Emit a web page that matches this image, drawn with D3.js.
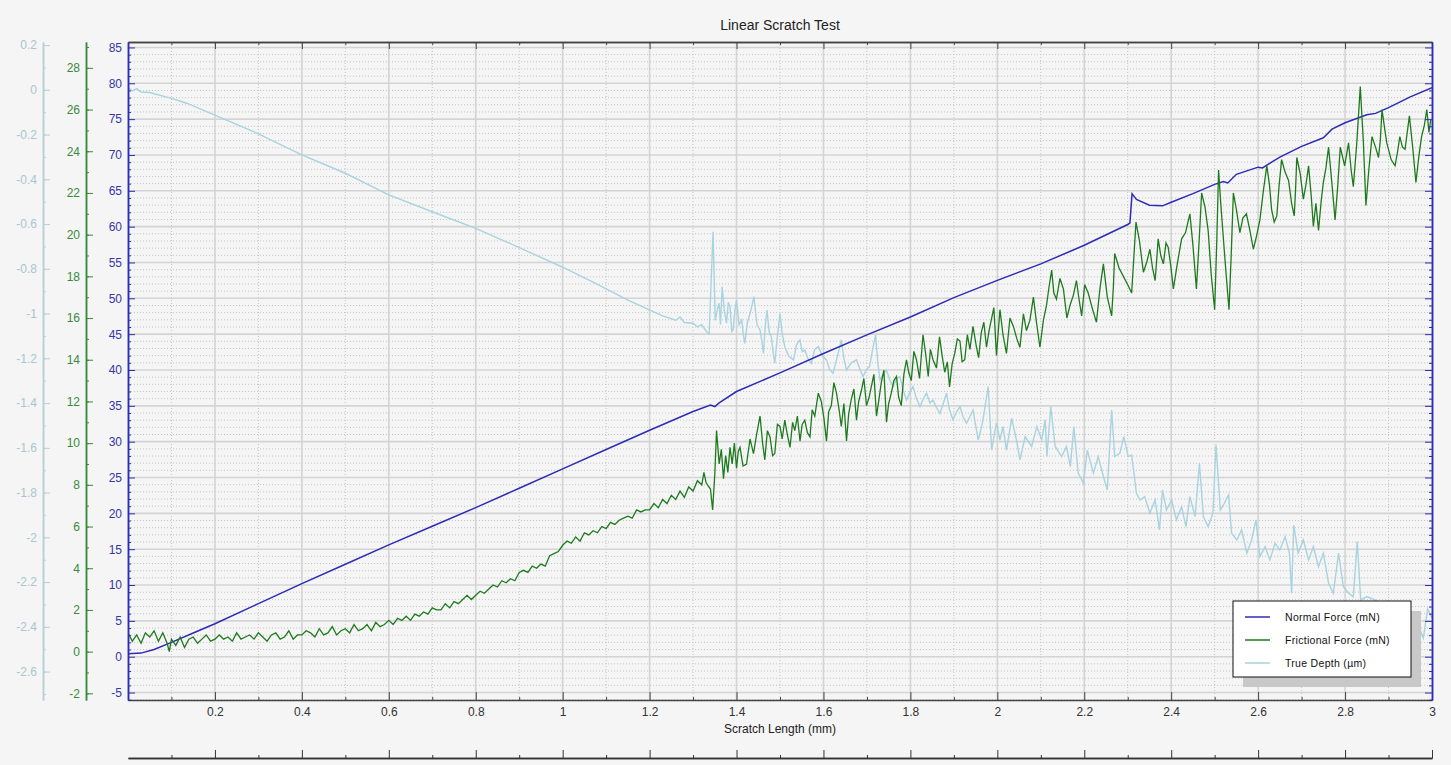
<!DOCTYPE html>
<html>
<head>
<meta charset="utf-8">
<script src="https://d3js.org/d3.v7.min.js"></script>
<style>
  body { margin: 0; background: #f5f5f5; }
  svg text { font-family: "Liberation Sans", Arial, sans-serif; }
</style>
</head>
<body>
<div id="chart"></div>
<script>
// ---- data ----
var lengthTicks = [0.2, 0.4, 0.6, 0.8, 1, 1.2, 1.4, 1.6, 1.8, 2, 2.2, 2.4, 2.6, 2.8, 3];
var normalTicks = [-5, 0, 5, 10, 15, 20, 25, 30, 35, 40, 45, 50, 55, 60, 65, 70, 75, 80, 85];
var frictionTicks = [-2, 0, 2, 4, 6, 8, 10, 12, 14, 16, 18, 20, 22, 24, 26, 28];
var depthTicks = [0.2, 0, -0.2, -0.4, -0.6, -0.8, -1, -1.2, -1.4, -1.6, -1.8, -2, -2.2, -2.4, -2.6];
var seriesNames = ["Normal Force (mN)", "Frictional Force (mN)", "True Depth (\u00b5m)"];

var normalX = [0, 0.03, 0.06, 0.1, 0.15, 0.2, 0.3, 0.4, 0.5, 0.6, 0.7, 0.8, 0.9, 1.0, 1.1, 1.2, 1.3, 1.34, 1.35, 1.36, 1.4,
  1.5, 1.6, 1.7, 1.8, 1.9, 2.0, 2.1, 2.2, 2.3, 2.305, 2.31, 2.32, 2.35, 2.38, 2.4, 2.45, 2.5, 2.52, 2.53, 2.55,
  2.6, 2.61, 2.65, 2.7, 2.75, 2.77, 2.8, 2.85, 2.87, 2.9, 2.95, 3.0];
var normalF = [0.4, 0.5, 1.0, 2.0, 3.3, 4.6, 7.4, 10.2, 12.9, 15.6, 18.2, 20.8, 23.5, 26.2, 28.9, 31.6, 34.2, 35.1, 34.9, 35.4, 37.0,
  39.6, 42.3, 44.9, 47.4, 50.1, 52.5, 54.8, 57.4, 60.3, 60.5, 64.6, 63.8, 63.0, 62.9, 63.4, 64.6, 65.9, 66.3, 66.1, 67.3,
  68.3, 68.2, 69.7, 71.2, 72.4, 73.6, 74.5, 75.6, 75.8, 76.6, 78.1, 79.4];

var frictionX = [0, 0.01, 0.02, 0.03, 0.04, 0.05, 0.06, 0.07, 0.08, 0.09, 0.095, 0.1, 0.11, 0.12, 0.13, 0.14, 0.15, 0.16, 0.17, 0.18, 0.19,
  0.2, 0.21, 0.22, 0.23, 0.24, 0.25, 0.26, 0.27, 0.28, 0.29, 0.3, 0.31, 0.32, 0.33, 0.34, 0.35, 0.36, 0.37, 0.38, 0.39,
  0.4, 0.41, 0.42, 0.43, 0.44, 0.45, 0.46, 0.47, 0.48, 0.49, 0.5, 0.51, 0.52, 0.53, 0.54, 0.55, 0.56, 0.57, 0.58, 0.59,
  0.6, 0.61, 0.62, 0.63, 0.64, 0.65, 0.66, 0.67, 0.68, 0.69, 0.7, 0.71, 0.72, 0.73, 0.74, 0.75, 0.76, 0.77, 0.78, 0.79,
  0.8, 0.81, 0.82, 0.83, 0.84, 0.85, 0.86, 0.87, 0.88, 0.89, 0.9, 0.91, 0.92, 0.93, 0.94, 0.95, 0.96, 0.97, 0.98, 0.99,
  1.0, 1.01, 1.02, 1.03, 1.04, 1.05, 1.06, 1.07, 1.08, 1.09, 1.1, 1.11, 1.12, 1.13, 1.14, 1.15, 1.16, 1.17, 1.18, 1.19,
  1.2, 1.21, 1.22, 1.23, 1.24, 1.25, 1.26, 1.27, 1.28, 1.29, 1.3, 1.31, 1.32, 1.325, 1.33, 1.34, 1.345, 1.35, 1.354, 1.36,
  1.365, 1.37, 1.375, 1.38, 1.385, 1.39, 1.395,
  1.400, 1.404, 1.408, 1.415, 1.423, 1.431, 1.439, 1.446, 1.454, 1.460,
  1.465, 1.471, 1.477, 1.483, 1.488, 1.494, 1.500, 1.505, 1.511, 1.517,
  1.523, 1.529, 1.534, 1.540, 1.546, 1.551, 1.557, 1.563, 1.569, 1.574,
  1.580, 1.588, 1.595, 1.601, 1.607, 1.612, 1.618, 1.624, 1.630, 1.636,
  1.641, 1.647, 1.653, 1.658, 1.664, 1.670, 1.676, 1.681, 1.687, 1.693,
  1.699, 1.705, 1.710, 1.716, 1.722, 1.727, 1.733, 1.739, 1.745, 1.750,
  1.756, 1.762, 1.768, 1.773, 1.779, 1.785, 1.791, 1.796, 1.802, 1.808,
  1.814, 1.821, 1.829, 1.835, 1.841, 1.846, 1.852, 1.860, 1.867, 1.873,
  1.879, 1.885, 1.890, 1.896, 1.902, 1.908, 1.914, 1.919, 1.925, 1.931,
  1.937, 1.944, 1.952, 1.957, 1.963, 1.969, 1.975, 1.981, 1.986, 1.992,
  1.998,
  2.006, 2.013, 2.021, 2.029, 2.037, 2.045, 2.052, 2.060, 2.067, 2.075,
  2.083, 2.090, 2.098, 2.106, 2.113, 2.119, 2.125, 2.130, 2.136, 2.144,
  2.152, 2.160, 2.167, 2.175, 2.182, 2.188, 2.194, 2.201, 2.209, 2.218,
  2.228, 2.236, 2.244, 2.253, 2.263, 2.267, 2.270, 2.280, 2.290, 2.300,
  2.309, 2.314, 2.319, 2.327, 2.336, 2.344, 2.351, 2.357, 2.363, 2.367,
  2.370, 2.376, 2.382, 2.388, 2.393, 2.399, 2.405, 2.414, 2.424, 2.433,
  2.443, 2.450, 2.458, 2.464, 2.470, 2.478, 2.485, 2.492, 2.500, 2.505,
  2.509, 2.514, 2.519, 2.526, 2.533, 2.538, 2.543, 2.550, 2.558, 2.565,
  2.573, 2.581, 2.589, 2.596, 2.604, 2.612, 2.620, 2.626, 2.631, 2.637,
  2.643, 2.648, 2.654, 2.662, 2.670, 2.677, 2.683, 2.686, 2.689, 2.697,
  2.704, 2.710, 2.716, 2.722, 2.727, 2.733, 2.739, 2.745, 2.750, 2.756,
  2.762, 2.770, 2.777, 2.783, 2.789, 2.799, 2.808, 2.814, 2.819, 2.827,
  2.835, 2.842, 2.848, 2.855, 2.862, 2.870, 2.877, 2.881, 2.885, 2.891,
  2.896, 2.906, 2.915, 2.921, 2.926, 2.932, 2.938, 2.943, 2.948, 2.956,
  2.963, 2.970, 2.976, 2.982, 2.988, 2.993, 2.997];
var frictionF = [0.9, 0.5, 0.8, 0.4, 0.9, 0.7, 1.0, 0.5, 0.9, 0.4, 0.0, 0.6, 0.3, 0.7, 0.2, 0.6, 0.7, 0.4, 0.6, 0.8, 0.5,
  0.6, 0.8, 0.6, 0.7, 0.5, 0.9, 0.6, 0.7, 0.8, 0.6, 0.9, 0.7, 0.5, 0.8, 0.9, 0.6, 0.7, 1.0, 0.6, 0.8,
  0.8, 1.0, 0.9, 0.7, 1.1, 0.8, 0.9, 1.2, 0.8, 1.0, 1.1, 0.9, 1.3, 1.0, 1.1, 1.3, 1.0, 1.4, 1.2, 1.3,
  1.5, 1.3, 1.6, 1.5, 1.7, 1.5, 1.8, 1.7, 1.9, 1.8, 2.1, 2.0, 2.0, 2.3, 2.1, 2.4, 2.3, 2.5, 2.7, 2.5,
  2.7, 2.9, 2.8, 3.0, 3.2, 3.1, 3.4, 3.3, 3.5, 3.4, 3.8, 3.9, 3.8, 4.1, 4.0, 4.2, 4.1, 4.6, 4.7, 4.8,
  5.1, 5.3, 5.2, 5.5, 5.3, 5.7, 5.6, 5.8, 5.7, 6.0, 5.9, 6.2, 6.1, 6.3, 6.4, 6.5, 6.4, 6.8, 6.7, 6.8,
  6.8, 7.1, 6.9, 7.3, 7.1, 7.5, 7.3, 7.7, 7.4, 7.9, 7.7, 8.2, 8.0, 8.6, 8.1, 7.8, 6.8, 8.5, 10.6, 9.0,
  9.7, 8.3, 9.4, 8.6, 9.8, 9.0, 10.0,
  8.8, 9.6, 9.8, 8.9, 9.0, 10.2, 9.5, 10.4, 11.3, 10.0,
  9.2, 10.6, 10.3, 9.4, 9.5, 10.9, 10.8, 10.2, 11.1, 10.4,
  9.8, 11.0, 10.6, 11.3, 10.1, 10.9, 11.1, 10.5, 10.3, 11.6,
  11.3, 12.4, 12.0, 11.2, 10.1, 11.5, 11.8, 12.9, 12.4, 11.6,
  10.8, 11.9, 10.1, 11.4, 12.1, 12.6, 11.1, 12.0, 12.5, 13.1,
  11.8, 12.2, 12.7, 13.3, 11.3, 12.0, 12.9, 13.5, 11.0, 11.9,
  12.4, 13.0, 13.2, 12.2, 11.8, 13.3, 14.0, 13.4, 13.0, 14.4,
  14.0, 13.1, 15.2, 14.3, 13.2, 14.5, 14.0, 13.6, 15.1, 14.2,
  13.4, 13.9, 12.7, 13.8, 14.3, 15.0, 14.9, 13.9, 14.0, 15.2,
  14.5, 15.6, 14.6, 14.1, 15.3, 15.8, 14.6, 15.4, 15.9, 16.5,
  14.2,
  16.4, 15.2, 14.3, 16.0, 15.6, 15.0, 14.6, 16.2, 15.4, 15.9,
  17.0, 15.8, 14.6, 15.9, 16.6, 17.5, 18.3, 17.2, 16.9, 17.9,
  17.4, 16.0, 16.6, 17.1, 17.8, 16.9, 16.1, 17.6, 17.2, 16.5,
  15.8, 17.4, 18.6, 17.0, 16.1, 17.5, 19.1, 18.4, 18.0, 17.6,
  17.2, 18.9, 20.6, 19.7, 18.2, 18.7, 19.3, 18.4, 17.8, 18.9,
  19.8, 19.0, 18.6, 19.6, 19.4, 18.5, 17.4, 18.6, 19.8, 20.1,
  21.0, 19.5, 17.4, 19.6, 22.0, 21.3, 20.2, 18.1, 16.4, 19.8,
  23.1, 21.5, 20.1, 18.2, 16.4, 19.0, 22.0, 21.2, 20.1, 20.8,
  21.0, 20.2, 19.3, 19.9, 20.7, 22.1, 23.3, 22.4, 21.2, 20.6,
  20.9, 22.3, 23.6, 23.0, 22.6, 21.5, 20.9, 22.1, 23.7, 22.9,
  21.7, 22.4, 23.3, 21.9, 20.4, 21.5, 20.2, 21.6, 22.5, 23.2,
  24.2, 22.4, 20.7, 22.3, 24.2, 23.3, 24.4, 23.1, 22.3, 24.4,
  27.1, 24.5, 21.4, 23.2, 24.7, 24.2, 23.7, 24.5, 26.0, 25.1,
  24.4, 23.6, 23.3, 24.0, 24.7, 24.2, 24.1, 24.9, 25.7, 24.1,
  22.5, 23.8, 24.7, 25.2, 26.0, 24.9, 25.5];

var depthX = [0, 0.01, 0.02, 0.03, 0.05, 0.1, 0.135, 0.2, 0.3, 0.4, 0.5, 0.6, 0.7, 0.8, 0.9, 1.0, 1.07, 1.15, 1.23, 1.26,
  1.27, 1.28, 1.3, 1.31, 1.32, 1.331, 1.337,
  1.346, 1.351, 1.356, 1.360, 1.363, 1.367, 1.372, 1.377, 1.381, 1.385,
  1.389, 1.392, 1.396, 1.400, 1.406, 1.412, 1.416, 1.419, 1.425, 1.431,
  1.436, 1.440, 1.447, 1.454, 1.458, 1.462, 1.466, 1.470, 1.475, 1.480,
  1.484, 1.488, 1.494, 1.500, 1.505, 1.511, 1.520, 1.531, 1.538, 1.546,
  1.551, 1.557, 1.564, 1.572, 1.580, 1.588, 1.598, 1.607, 1.614, 1.622,
  1.630, 1.636, 1.641, 1.647, 1.653, 1.664, 1.676, 1.684, 1.691, 1.699,
  1.706, 1.713, 1.720, 1.725, 1.730, 1.738, 1.745, 1.753, 1.761, 1.768,
  1.776, 1.783, 1.791, 1.799, 1.806, 1.814, 1.822, 1.830, 1.837, 1.845,
  1.852, 1.860, 1.868, 1.876, 1.883, 1.890, 1.898, 1.906, 1.914, 1.921,
  1.929, 1.937, 1.944, 1.950, 1.956, 1.962, 1.967, 1.973, 1.979, 1.983,
  1.987, 1.993, 1.998,
  2.006, 2.013, 2.021, 2.033, 2.044, 2.052, 2.064, 2.079, 2.091, 2.102, 2.11, 2.114, 2.123, 2.133, 2.148, 2.159,
  2.168, 2.176, 2.186, 2.198, 2.207, 2.221, 2.232, 2.244, 2.253, 2.263, 2.27, 2.282, 2.291, 2.301, 2.309, 2.32,
  2.328, 2.339, 2.351, 2.363, 2.373, 2.38, 2.389, 2.401, 2.412, 2.424, 2.434, 2.443, 2.455, 2.465, 2.474, 2.485,
  2.496, 2.503, 2.513, 2.522, 2.532, 2.539, 2.551, 2.562, 2.574, 2.585, 2.595, 2.604, 2.616, 2.627, 2.639, 2.65,
  2.662, 2.672, 2.677, 2.682, 2.692, 2.704, 2.716, 2.727, 2.739, 2.75, 2.762, 2.773, 2.785, 2.796, 2.808, 2.819,
  2.828, 2.836, 2.85, 2.87, 2.89, 2.91, 2.93, 2.95, 2.97, 2.98, 2.99, 3.0];
var depthD = [0.01, -0.005, 0.005, -0.01, -0.012, -0.038, -0.06, -0.113, -0.197, -0.291, -0.373, -0.47, -0.545, -0.619, -0.705, -0.793, -0.86, -0.94, -1.01, -1.03,
  -1.015, -1.04, -1.043, -1.06, -1.05, -1.081, -1.09,
  -0.634, -1.03, -0.98, -0.954, -1.05, -0.88, -0.99, -1.043, -0.95, -0.97,
  -1.08, -1.073, -0.99, -0.94, -1.05, -1.029, -1.10, -1.133, -1.04, -1.0,
  -0.96, -0.924, -1.05, -1.073, -1.12, -1.178, -1.06, -0.984, -1.08, -1.103,
  -1.17, -1.222, -1.10, -1.0, -1.09, -1.148, -1.19, -1.207, -1.14, -1.118,
  -1.17, -1.163, -1.20, -1.222, -1.16, -1.148, -1.19, -1.207, -1.25, -1.267,
  -1.207, -1.16, -1.118, -1.20, -1.252, -1.22, -1.207, -1.25, -1.282, -1.25,
  -1.237, -1.16, -1.096, -1.22, -1.296, -1.27, -1.252, -1.30, -1.326, -1.29,
  -1.282, -1.34, -1.386, -1.35, -1.326, -1.38, -1.416, -1.38, -1.356, -1.40,
  -1.386, -1.42, -1.446, -1.40, -1.356, -1.43, -1.475, -1.44, -1.416, -1.46,
  -1.49, -1.46, -1.431, -1.50, -1.565, -1.52, -1.475, -1.40, -1.326, -1.47,
  -1.61, -1.54, -1.49,
  -1.565, -1.505, -1.61, -1.468, -1.565, -1.654, -1.55, -1.594, -1.505, -1.565, -1.475, -1.639, -1.416, -1.594, -1.639, -1.594,
  -1.684, -1.505, -1.713, -1.758, -1.61, -1.713, -1.639, -1.728, -1.788, -1.431, -1.639, -1.624, -1.55, -1.639, -1.632, -1.803,
  -1.833, -1.818, -1.892, -1.833, -1.967, -1.788, -1.878, -1.833, -1.922, -1.863, -1.952, -1.818, -1.907, -1.669, -1.907, -1.952,
  -1.892, -1.587, -1.878, -1.848, -1.81, -1.982, -2.012, -1.967, -2.071, -2.012, -1.922, -2.086, -2.042, -2.101, -2.027, -2.057,
  -1.997, -2.071, -2.25, -1.945, -2.071, -2.012, -2.101, -2.042, -2.131, -2.071, -2.205, -2.25, -2.071, -2.22, -2.25, -2.265,
  -2.019, -2.28, -2.265, -2.28, -2.33, -2.3, -2.36, -2.33, -2.4, -2.45, -2.32, -2.36];

// ---- layout ----
var W = 1451, H = 765;
var L = 128, R = 1432, T = 42, B = 700;
var cNormal = "#2c2cb4", cFriction = "#1f7a1f", cDepth = "#a9d3df";

var svg = d3.select("#chart").append("svg")
    .attr("width", W).attr("height", H);

svg.append("rect").attr("width", W).attr("height", H).attr("fill", "#f5f5f5");

var x = d3.scaleLinear().domain([0, 3]).range([L, R]);
var yN = d3.scaleLinear().domain([-6.04, 85.76]).range([B, T]);
var yF = d3.scaleLinear().domain([-2.32, 29.24]).range([B, T]);
var yD = d3.scaleLinear().domain([-2.727, 0.2136]).range([B, T]);

// grid
var grid = svg.append("g");
var minorX = d3.range(0.1, 3, 0.2);
var minorY = d3.range(-6, 86, 1).filter(function(v){ return v % 5 !== 0; });
grid.selectAll(".mx").data(minorX).enter().append("line")
  .attr("x1", d => x(d)).attr("x2", d => x(d)).attr("y1", T).attr("y2", B)
  .attr("stroke", "#c4c4c4").attr("stroke-dasharray", "1,2");
grid.selectAll(".my").data(minorY).enter().append("line")
  .attr("x1", L).attr("x2", R).attr("y1", d => yN(d)).attr("y2", d => yN(d))
  .attr("stroke", "#c4c4c4").attr("stroke-dasharray", "1,2");
grid.selectAll(".gx").data(lengthTicks.slice(0, -1)).enter().append("line")
  .attr("x1", d => x(d)).attr("x2", d => x(d)).attr("y1", T).attr("y2", B)
  .attr("stroke", "#d4d4d4").attr("stroke-width", 1.6);
grid.selectAll(".gy").data(normalTicks).enter().append("line")
  .attr("x1", L).attr("x2", R).attr("y1", d => yN(d)).attr("y2", d => yN(d))
  .attr("stroke", "#d4d4d4").attr("stroke-width", 1.6);

// series
svg.append("clipPath").attr("id", "clip").append("rect")
  .attr("x", L).attr("y", T).attr("width", R - L).attr("height", B - T);
var plot = svg.append("g").attr("clip-path", "url(#clip)");

function pairs(xs, ys){ return xs.map(function(v, i){ return [v, ys[i]]; }); }

plot.append("path").datum(pairs(depthX, depthD))
  .attr("fill", "none").attr("stroke", cDepth).attr("stroke-width", 1.4)
  .attr("d", d3.line().x(d => x(d[0])).y(d => yD(d[1])));
plot.append("path").datum(pairs(normalX, normalF))
  .attr("fill", "none").attr("stroke", cNormal).attr("stroke-width", 1.5)
  .attr("d", d3.line().x(d => x(d[0])).y(d => yN(d[1])));
plot.append("path").datum(pairs(frictionX, frictionF))
  .attr("fill", "none").attr("stroke", cFriction).attr("stroke-width", 1.3)
  .attr("d", d3.line().x(d => x(d[0])).y(d => yF(d[1])));

// axes
function style(g, col, labCol){
  g.selectAll(".domain").attr("stroke", col).attr("stroke-width", 1.5);
  g.selectAll(".tick line").attr("stroke", col);
  g.selectAll("text").attr("fill", labCol).style("font-size", "12px");
}
var fmt = function(d){ return String(d); };

// bottom x
var gx = svg.append("g").attr("transform", "translate(0," + B + ")")
  .call(d3.axisBottom(x).tickValues(minorX).tickSize(-3).tickSizeOuter(0).tickFormat(""));
style(gx, "#444", "#333");
var gx2 = svg.append("g").attr("transform", "translate(0," + B + ")")
  .call(d3.axisBottom(x).tickValues(lengthTicks).tickSize(-8).tickSizeOuter(0).tickPadding(7).tickFormat(fmt));
style(gx2, "#444", "#333");
gx2.selectAll(".domain").remove();

// top border
var gt = svg.append("g").attr("transform", "translate(0," + T + ")")
  .call(d3.axisBottom(x).tickValues(minorX).tickSize(3).tickSizeOuter(0).tickFormat(""));
style(gt, "#444", "#333");
var gt2 = svg.append("g").attr("transform", "translate(0," + T + ")")
  .call(d3.axisBottom(x).tickValues(lengthTicks).tickSize(7).tickSizeOuter(0).tickFormat(""));
style(gt2, "#444", "#333");

// extra bottom axis
var gb = svg.append("g").attr("transform", "translate(0,758)")
  .call(d3.axisBottom(x).tickValues(minorX).tickSize(-3).tickSizeOuter(0).tickFormat(""));
style(gb, "#333", "#333");
var gb2 = svg.append("g").attr("transform", "translate(0,758)")
  .call(d3.axisBottom(x).tickValues(lengthTicks).tickSize(-8).tickSizeOuter(0).tickFormat(""));
style(gb2, "#333", "#333");

// normal force axis (left & right)
var minorN = d3.range(-6, 86, 1).filter(function(v){ return v % 5 !== 0; });
var gn = svg.append("g").attr("transform", "translate(" + L + ",0)")
  .call(d3.axisLeft(yN).tickValues(minorN).tickSize(-3).tickSizeOuter(0).tickFormat(""));
style(gn, cNormal, cNormal);
var gn2 = svg.append("g").attr("transform", "translate(" + L + ",0)")
  .call(d3.axisLeft(yN).tickValues(normalTicks).tickSize(-7).tickSizeOuter(0).tickPadding(6).tickFormat(fmt));
style(gn2, cNormal, "#3636a8");
var gr = svg.append("g").attr("transform", "translate(" + R + ",0)")
  .call(d3.axisRight(yN).tickValues(minorN).tickSize(-3).tickSizeOuter(0).tickFormat(""));
style(gr, cNormal, cNormal);
var gr2 = svg.append("g").attr("transform", "translate(" + R + ",0)")
  .call(d3.axisRight(yN).tickValues(normalTicks).tickSize(-7).tickSizeOuter(0).tickFormat(""));
style(gr2, cNormal, cNormal);

// frictional force axis
var gf = svg.append("g").attr("transform", "translate(86,0)")
  .call(d3.axisLeft(yF).tickValues(d3.range(-2, 30, 1)).tickSize(-3).tickSizeOuter(0).tickFormat(""));
style(gf, "#3a8a3a", "#3a8a3a");
var gf2 = svg.append("g").attr("transform", "translate(86,0)")
  .call(d3.axisLeft(yF).tickValues(frictionTicks).tickSize(-7).tickSizeOuter(0).tickPadding(6).tickFormat(fmt));
style(gf2, "#3a8a3a", "#3a8a3a");

// depth axis
var gd = svg.append("g").attr("transform", "translate(43,0)")
  .call(d3.axisLeft(yD).tickValues(d3.range(-27, 3, 1).map(v => v / 10)).tickSize(-3).tickSizeOuter(0).tickFormat(""));
style(gd, "#b6d0d8", "#b6d0d8");
var gd2 = svg.append("g").attr("transform", "translate(43,0)")
  .call(d3.axisLeft(yD).tickValues(depthTicks).tickSize(-7).tickSizeOuter(0).tickPadding(6).tickFormat(fmt));
style(gd2, "#b6d0d8", "#a9c6cf");

// titles
svg.append("text").attr("x", 780).attr("y", 30).attr("text-anchor", "middle")
  .style("font-size", "14px").attr("fill", "#222").text("Linear Scratch Test");
svg.append("text").attr("x", 780).attr("y", 733).attr("text-anchor", "middle")
  .style("font-size", "12px").attr("fill", "#222").text("Scratch Length (mm)");

// legend
var lg = svg.append("g").attr("transform", "translate(1233,601)");
lg.append("rect").attr("x", 10).attr("y", 10).attr("width", 178).attr("height", 76).attr("fill", "#c8c8c8");
lg.append("rect").attr("x", 0).attr("y", 0).attr("width", 178).attr("height", 76)
  .attr("fill", "#ffffff").attr("stroke", "#111").attr("stroke-width", 1);
var cols = [cNormal, cFriction, cDepth];
seriesNames.forEach(function(n, i){
  var yy = 16 + i * 23;
  lg.append("line").attr("x1", 12).attr("x2", 37).attr("y1", yy).attr("y2", yy)
    .attr("stroke", cols[i]).attr("stroke-width", 1.5);
  lg.append("text").attr("x", 52).attr("y", yy + 4).style("font-size", "10.5px")
    .style("letter-spacing", "0.3px").attr("fill", "#111").text(n);
});
</script>
</body>
</html>
